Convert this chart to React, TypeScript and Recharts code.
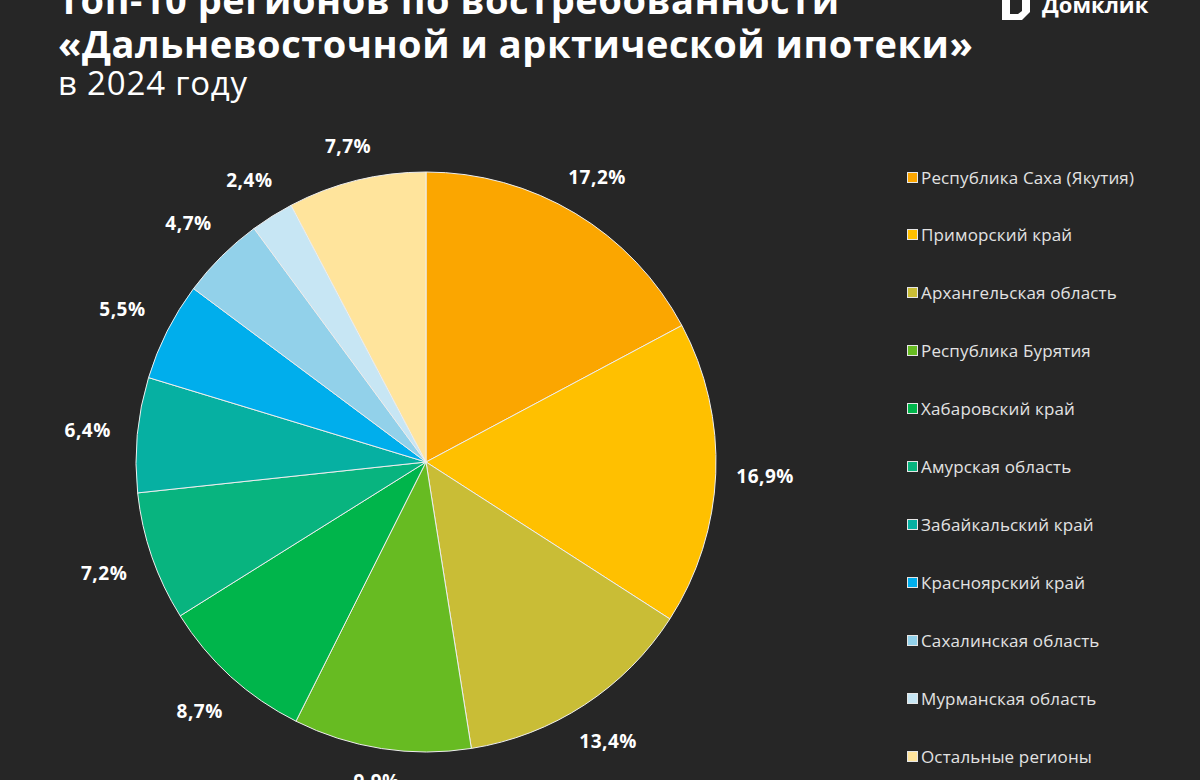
import React from "react";
import { PieChart, Pie, Cell, Legend } from "recharts";

const regions = [
  "Республика Саха (Якутия)",
  "Приморский край",
  "Архангельская область",
  "Республика Бурятия",
  "Хабаровский край",
  "Амурская область",
  "Забайкальский край",
  "Красноярский край",
  "Сахалинская область",
  "Мурманская область",
  "Остальные регионы",
];
const shares = [17.2, 16.9, 13.4, 9.9, 8.7, 7.2, 6.4, 5.5, 4.7, 2.4, 7.7];
const colors = [
  "#FBA600",
  "#FFC000",
  "#C9BD36",
  "#67BB22",
  "#00B54B",
  "#08B47F",
  "#06B0A2",
  "#00AEEC",
  "#92D1EA",
  "#C7E6F4",
  "#FFE49C",
];

const data = regions.map((name, i) => ({ name, value: shares[i] }));

const RAD = Math.PI / 180;
const fmt = (v: number) => v.toFixed(1).replace(".", ",") + "%";

const renderLabel = (props: any) => {
  const { cx, cy, midAngle, outerRadius, value } = props;
  const c = Math.cos(-midAngle * RAD);
  const s = Math.sin(-midAngle * RAD);
  const r = outerRadius + 18 + Math.abs(c) * 31 + Math.abs(s) * 10;
  const x = cx + r * c;
  const y = cy + r * s;
  return (
    <text
      x={x}
      y={y}
      fill="#ffffff"
      textAnchor="middle"
      dominantBaseline="central"
      fontFamily="'Open Sans', sans-serif"
      fontWeight={700}
      fontSize={19}
      letterSpacing={0.5}
    >
      {fmt(value)}
    </text>
  );
};

const renderLegend = () => {
  return (
    <div style={{ position: "absolute", left: 0, top: 0 }}>
      {regions.map((name, i) => (
        <div
          key={name}
          style={{
            position: "absolute",
            left: 0,
            top: i * 57.9,
            height: 20,
            display: "flex",
            alignItems: "center",
            whiteSpace: "nowrap",
          }}
        >
          <div
            style={{
              width: 9,
              height: 9,
              background: colors[i],
              border: "1px solid #e6e6e6",
              marginRight: 3,
            }}
          />
          <span
            style={{
              color: "#e2e2e2",
              fontFamily: "'Open Sans', sans-serif",
              fontSize: 17,
              letterSpacing: 0.15,
            }}
          >
            {name}
          </span>
        </div>
      ))}
    </div>
  );
};

export default function App() {
  return (
    <div
      style={{
        position: "fixed",
        left: 0,
        top: 0,
        width: 1200,
        height: 780,
        background: "#262626",
        overflow: "hidden",
      }}
    >
      <div
        style={{
          position: "absolute",
          left: 58,
          top: -23,
          color: "#ffffff",
          fontFamily: "'Open Sans', sans-serif",
          fontWeight: 700,
          fontSize: 38,
          letterSpacing: 0.55,
          lineHeight: "44px",
          whiteSpace: "nowrap",
        }}
      >
        <div>Топ-10 регионов по востребованности</div>
        <div>«Дальневосточной и арктической ипотеки»</div>
        <div style={{ fontWeight: 400, fontSize: 33, letterSpacing: 0.8, lineHeight: "36px" }}>
          в 2024 году
        </div>
      </div>
      <div style={{ position: "absolute", left: 1000, top: -6, display: "flex", alignItems: "center" }}>
        <svg width="34" height="28" viewBox="0 0 34 28">
          <path d="M2 0 L2 26 L22 26 L30 18 L30 0 L22 0 L22 17 L18 20 L10 20 L10 0 Z" fill="#ffffff" />
        </svg>
        <span
          style={{
            color: "#ffffff",
            fontFamily: "'Open Sans', sans-serif",
            fontWeight: 700,
            fontSize: 22,
            marginLeft: 8,
            marginTop: -8,
          }}
        >
          Домклик
        </span>
      </div>
      <PieChart
        width={1200}
        height={780}
        margin={{ top: 0, right: 0, bottom: 0, left: 0 }}
        style={{ position: "absolute", left: 0, top: 0 }}
      >
        <Pie
          data={data}
          dataKey="value"
          nameKey="name"
          cx={426}
          cy={462}
          outerRadius={290}
          startAngle={90}
          endAngle={-270}
          stroke="#eeeeee"
          strokeWidth={1}
          label={renderLabel}
          labelLine={false}
          isAnimationActive={false}
        >
          {data.map((d, i) => (
            <Cell key={d.name} fill={colors[i]} />
          ))}
        </Pie>
        <Legend
          layout="vertical"
          align="right"
          verticalAlign="top"
          content={renderLegend}
          wrapperStyle={{ position: "absolute", left: 907, top: 167, width: 290, height: 600 }}
        />
      </PieChart>
    </div>
  );
}
